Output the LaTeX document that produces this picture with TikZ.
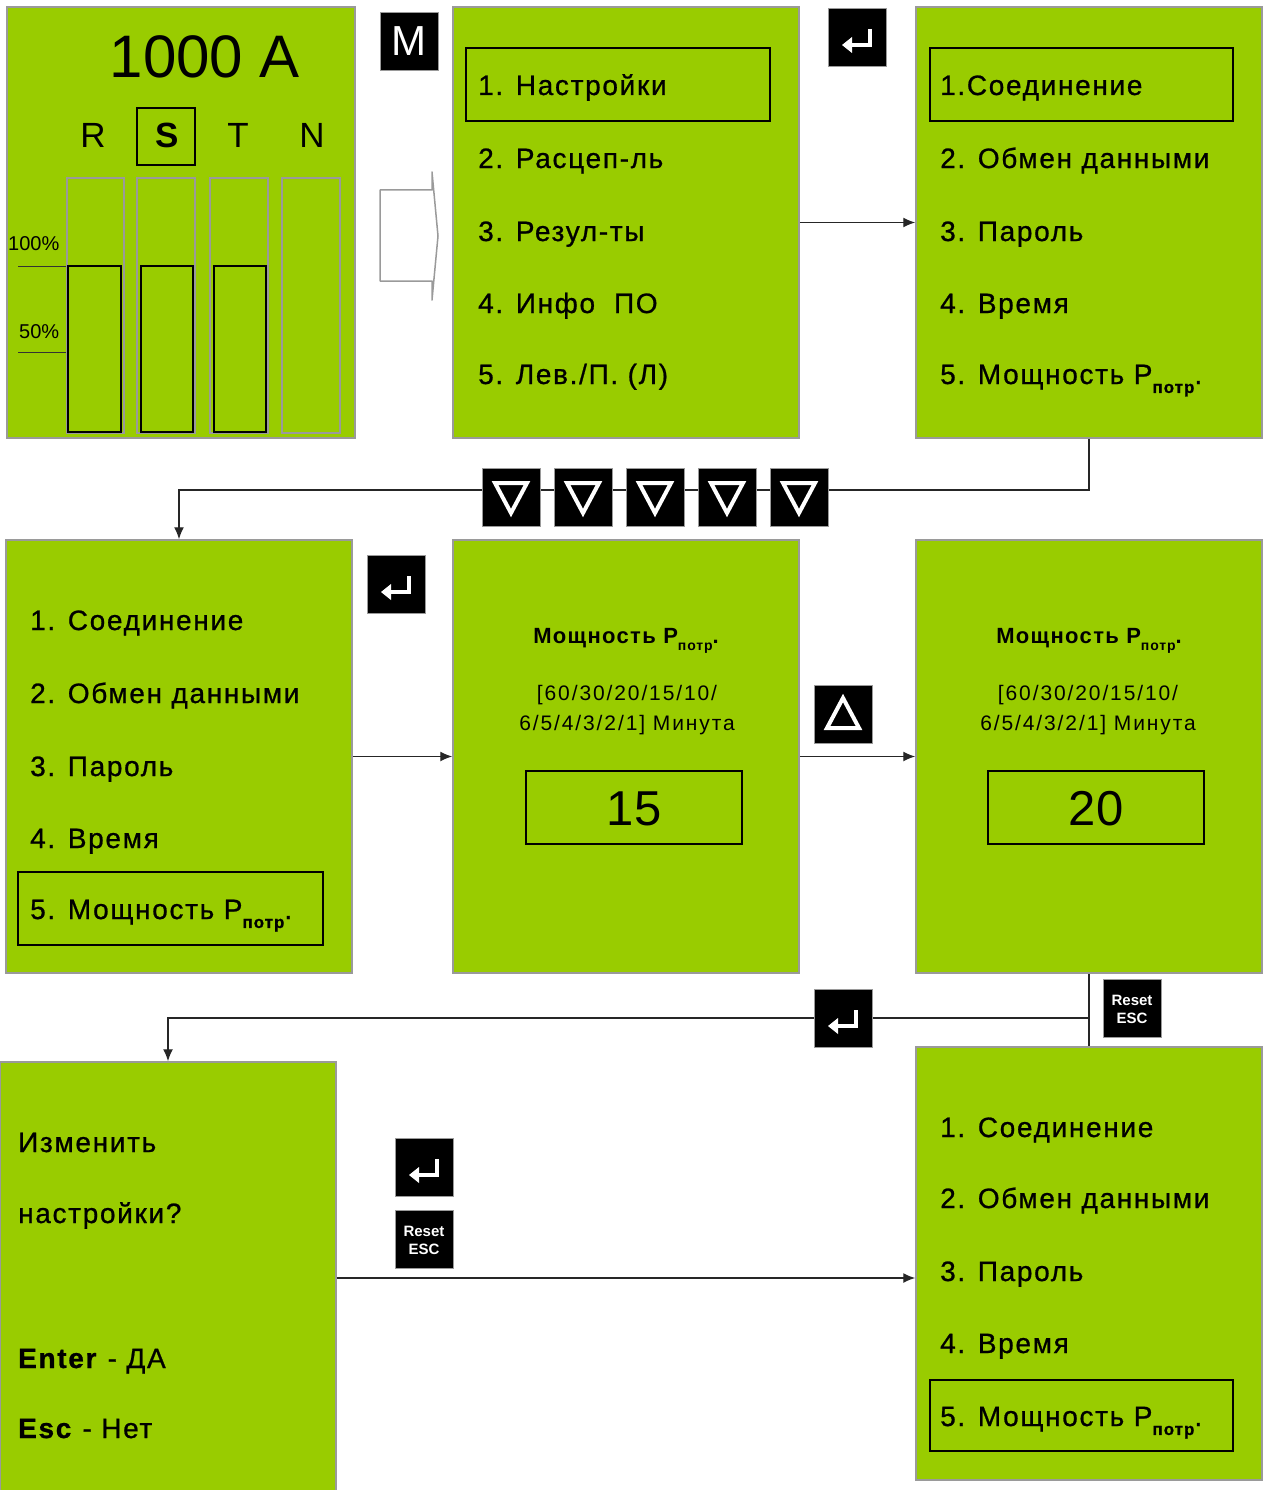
\documentclass[tikz,border=0pt]{standalone}
\usepackage{fontspec}
\setmainfont{Liberation Sans}
\newfontfamily\lcdfont{Liberation Sans}[LetterSpace=6, FakeBold=0.8]
\newfontfamily\lcdhead{Liberation Sans}[LetterSpace=6]
\usetikzlibrary{arrows.meta}
\definecolor{lcd}{HTML}{99CC00}
\definecolor{frame}{HTML}{9A9A9A}
\newcommand\potrsub[1]{\raisebox{-0.32em}{\fontsize{#1}{#1}\selectfont\bfseries потр}}
\tikzset{
  panel/.style={draw=frame, fill=lcd, line width=1.5pt, rectangle, inner sep=0pt},
  selbox/.style={draw=black, line width=1.3pt, rectangle, inner sep=0pt},
  btn/.style={fill=black, draw=frame, line width=0.6pt, rectangle, minimum width=58pt, minimum height=58pt, inner sep=0pt},
  conn/.style={draw=black!85, line width=1.4pt},
  arr/.style={conn, -{Latex[length=12pt,width=10pt]}},
  menu/.style={anchor=base west, inner sep=0pt, font=\lcdfont\fontsize{28}{28}\selectfont},
  small/.style={anchor=base, inner sep=0pt, font=\fontsize{21}{21}\selectfont\addfontfeature{LetterSpace=9}},
  head/.style={anchor=base, inner sep=0pt, font=\lcdhead\fontsize{22}{22}\selectfont\bfseries},
  big/.style={anchor=base, inner sep=0pt, font=\fontsize{49}{49}\selectfont},
  pics/enterkey/.style={code={
    \draw[white, line width=4.5pt] (13,-8) -- (13,8) -- (-6,8);
    \fill[white] (-15,8) -- (-5,0) -- (-5,16) -- cycle;
  }},
  pics/downkey/.style={code={
    \draw[white, line width=4pt, line join=miter] (-16,-14) -- (16,-14) -- (0,16) -- cycle;
  }},
  pics/upkey/.style={code={
    \draw[white, line width=4pt, line join=miter] (-16,14) -- (16,14) -- (0,-16) -- cycle;
  }},
  pics/esckey/.style={code={
    \node[white, anchor=base, inner sep=0pt, font=\fontsize{15}{15}\selectfont\bfseries] at (0,-3) {Reset};
    \node[white, anchor=base, inner sep=0pt, font=\fontsize{15}{15}\selectfont\bfseries] at (0,15) {ESC};
  }},
}
\begin{document}
\begin{tikzpicture}[x=1pt,y=-1pt]
\useasboundingbox (0,0) rectangle (1271,1490);

% ---------- panels ----------
\node[panel, minimum width=348pt, minimum height=431pt] (p1) at (181,222.5) {};
\node[panel, minimum width=346pt, minimum height=431pt] (p2) at (626,222.5) {};
\node[panel, minimum width=346pt, minimum height=431pt] (p3) at (1089,222.5) {};
\node[panel, minimum width=346pt, minimum height=433pt] (p4) at (179,756.5) {};
\node[panel, minimum width=346pt, minimum height=433pt] (p5) at (626,756.5) {};
\node[panel, minimum width=346pt, minimum height=433pt] (p6) at (1089,756.5) {};
\node[panel, minimum width=336pt, minimum height=436pt] (p7) at (168,1280) {};
\node[panel, minimum width=346pt, minimum height=433pt] (p8) at (1089,1263.5) {};

% ---------- panel 1 ----------
\node[anchor=base, inner sep=0pt, font=\fontsize{60}{60}\selectfont] (amp) at (205,78) {1000 A};
\node[selbox, minimum width=58pt, minimum height=57pt] (sbox) at (166,136.5) {};
\node[anchor=base, inner sep=0pt, font=\fontsize{35}{35}\selectfont] (ph1) at (93,148) {R};
\node[anchor=base, inner sep=0pt, font=\fontsize{35}{35}\selectfont\bfseries] (ph2) at (167,148) {S};
\node[anchor=base, inner sep=0pt, font=\fontsize{35}{35}\selectfont] (ph3) at (238,148) {T};
\node[anchor=base, inner sep=0pt, font=\fontsize{35}{35}\selectfont] (ph4) at (312,148) {N};
\foreach \a/\b in {67/124,137/195,210/268,282/340}
  \draw[frame, line width=1.5pt] (\a,178) rectangle (\b,433);
\foreach \a/\b in {68/121,141/193,214/266}
  \draw[black, line width=1.5pt] (\a,266) rectangle (\b,432);
\node[anchor=base west, inner sep=0pt, font=\fontsize{20}{20}\selectfont] (l100) at (8,250) {100\%};
\node[anchor=base west, inner sep=0pt, font=\fontsize{20}{20}\selectfont] (l50) at (19,338) {50\%};
\draw[black!80, line width=1pt] (18,266) -- (66,266);
\draw[black!80, line width=1pt] (18,352) -- (66,352);

% hollow arrow
\draw[frame, line width=1.5pt, fill=white, line join=round] (380,190) -- (432,190) -- (432,172) -- (438,236) -- (432,300) -- (432,281) -- (380,281) -- cycle;

% ---------- panel 2 ----------
\node[selbox, minimum width=304pt, minimum height=73pt] (sb2) at (618,84.5) {};
\node[menu] (m21) at (478,95) {1. Настройки};
\node[menu] (m22) at (478,168) {2. Расцеп-ль};
\node[menu] (m23) at (478,241) {3. Резул-ты};
\node[menu] (m24) at (478,313) {4. Инфо\ \ ПО};
\node[menu] (m25) at (478,384) {5. Лев./П. (Л)};

% ---------- panel 3 ----------
\node[selbox, minimum width=303pt, minimum height=73pt] (sb3) at (1081.5,84.5) {};
\node[menu] (m31) at (940,95) {1.Соединение};
\node[menu] (m32) at (940,168) {2. Обмен данными};
\node[menu] (m33) at (940,241) {3. Пароль};
\node[menu] (m34) at (940,313) {4. Время};
\node[menu] (m35) at (940,384) {5. Мощность P\potrsub{17}.};

% ---------- panel 4 ----------
\node[selbox, minimum width=305pt, minimum height=73pt] (sb4) at (170.5,908.5) {};
\node[menu] (m41) at (30,630) {1. Соединение};
\node[menu] (m42) at (30,703) {2. Обмен данными};
\node[menu] (m43) at (30,776) {3. Пароль};
\node[menu] (m44) at (30,848) {4. Время};
\node[menu] (m45) at (30,919) {5. Мощность P\potrsub{17}.};

% ---------- panel 5 ----------
\node[head] (h5) at (626,643) {Мощность P\potrsub{14}.};
\node[small] (r51) at (627,700) {[60/30/20/15/10/};
\node[small] (r52) at (627,730) {6/5/4/3/2/1] Минута};
\node[selbox, minimum width=216pt, minimum height=73pt] (vb5) at (634,807.5) {};
\node[big] (v5) at (634,825) {15};

% ---------- panel 6 ----------
\node[head] (h6) at (1089,643) {Мощность P\potrsub{14}.};
\node[small] (r61) at (1088,700) {[60/30/20/15/10/};
\node[small] (r62) at (1088,730) {6/5/4/3/2/1] Минута};
\node[selbox, minimum width=216pt, minimum height=73pt] (vb6) at (1096,807.5) {};
\node[big] (v6) at (1096,825) {20};

% ---------- panel 7 ----------
\node[menu] (q1) at (18,1152) {Изменить};
\node[menu] (q2) at (18,1223) {настройки?};
\node[menu] (q3) at (18,1368) {\textbf{Enter} - ДА};
\node[menu] (q4) at (18,1438) {\textbf{Esc} - Нет};

% ---------- panel 8 ----------
\node[selbox, minimum width=303pt, minimum height=71pt] (sb8) at (1081.5,1415.5) {};
\node[menu] (m81) at (940,1137) {1. Соединение};
\node[menu] (m82) at (940,1208) {2. Обмен данными};
\node[menu] (m83) at (940,1281) {3. Пароль};
\node[menu] (m84) at (940,1353) {4. Время};
\node[menu] (m85) at (940,1426) {5. Мощность P\potrsub{17}.};

% ---------- connectors ----------
\draw[arr] (p2.east) -- (p3.west);
\coordinate (r1) at (1089,490);
\draw[arr] (p3.south) -- (r1) -| (p4.north);
\draw[arr] (p4.east) -- (p5.west);
\draw[arr] (p5.east) -- (p6.west);
\draw[conn] (p6.south) -- (p8.north);
\coordinate (r2) at (1089,1018);
\draw[arr] (r2) -| (p7.north);
\draw[arr] (p7.east |- 0,1278) -- (p8.west |- 0,1278);

% ---------- keys ----------
\node[btn] (km) at (409,41) {};
\node[white, inner sep=0pt, font=\fontsize{42}{42}\selectfont] at (km.center) {M};
\node[btn] (ke1) at (857,37) {};
\pic at (ke1.center) {enterkey};
\foreach \x [count=\i] in {511,583,655,727,799} {
  \node[btn] (kd\i) at (\x,497) {};
  \pic at (kd\i.center) {downkey};
}
\node[btn] (ke2) at (396,584) {};
\pic at (ke2.center) {enterkey};
\node[btn] (ku) at (843,714) {};
\pic at (ku.center) {upkey};
\node[btn] (ke3) at (843,1018) {};
\pic at (ke3.center) {enterkey};
\node[btn] (kr1) at (1132,1008) {};
\pic at (kr1.center) {esckey};
\node[btn] (ke4) at (424,1167) {};
\pic at (ke4.center) {enterkey};
\node[btn] (kr2) at (424,1239) {};
\pic at (kr2.center) {esckey};
\end{tikzpicture}
\end{document}
